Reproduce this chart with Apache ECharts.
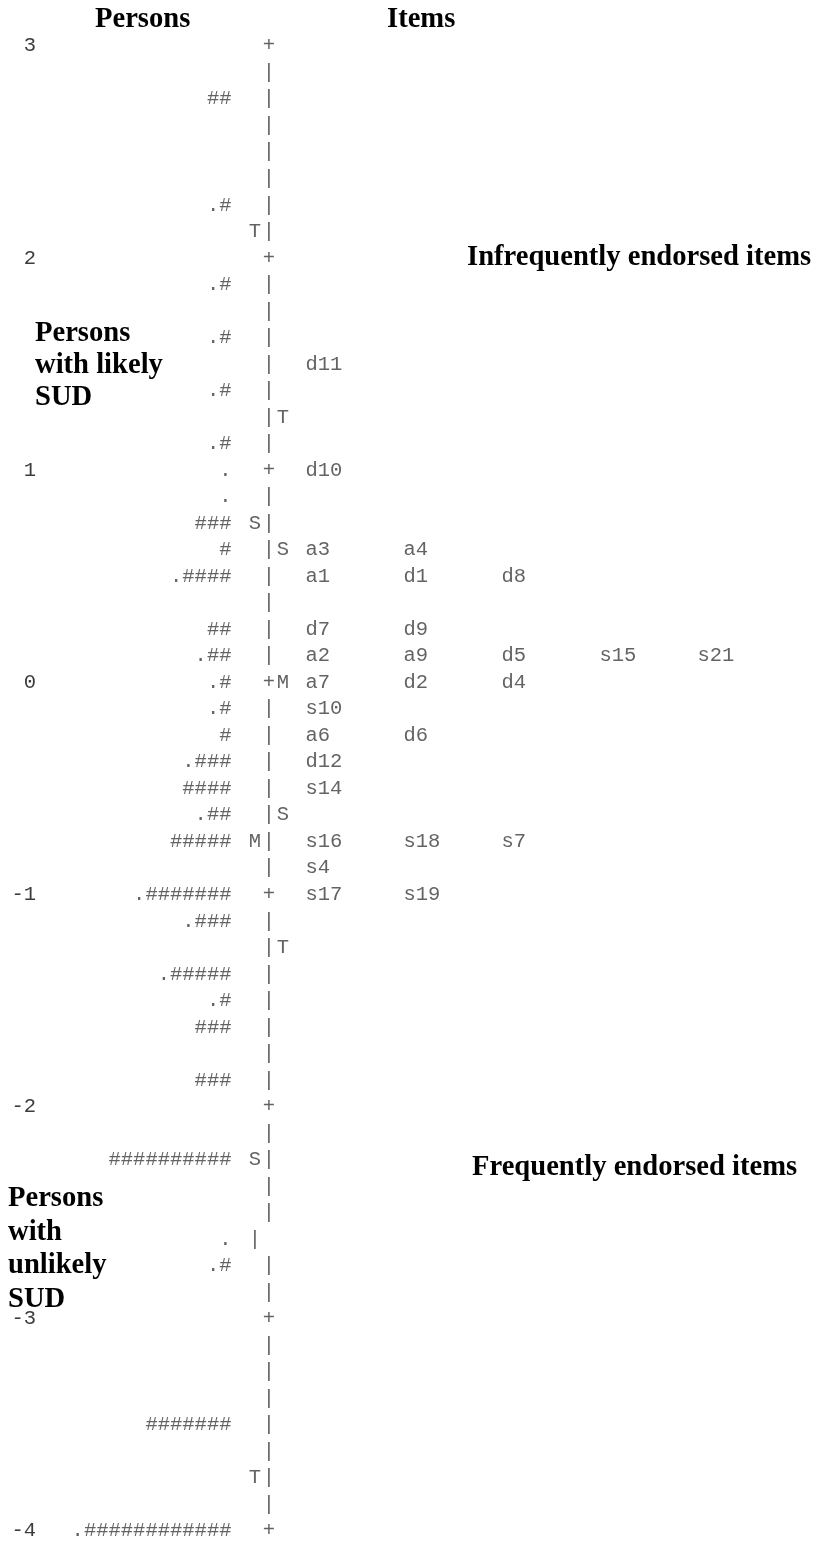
<!DOCTYPE html>
<html>
<head>
<meta charset="utf-8">
<script src="https://cdn.jsdelivr.net/npm/echarts@6/dist/echarts.min.js"></script>
<style>
  html, body { margin: 0; padding: 0; background: #fff; }
  #chart { width: 814px; height: 1542px; }
</style>
</head>
<body>
<div id="chart"></div>
<script>
// ---------- DATA ----------
// logit scale tick labels
const tickLabels = [3, 2, 1, 0, -1, -2, -3, -4];

// persons: [measure, histogram string]
const personMeasures = [2.75, 2.25, 1.875, 1.625, 1.375, 1.125, 1.0, 0.875, 0.75, 0.625, 0.5,
  0.25, 0.125, 0, -0.125, -0.25, -0.375, -0.5, -0.625, -0.75, -1.0, -1.125, -1.375, -1.5,
  -1.625, -1.875, -2.25, -2.625, -2.75, -3.5, -4.0];
const personBars = ['##', '.#', '.#', '.#', '.#', '.#', '.', '.', '###', '#', '.####',
  '##', '.##', '.#', '.#', '#', '.###', '####', '.##', '#####', '.#######', '.###', '.#####', '.#',
  '###', '###', '##########', '.', '.#', '#######', '.############'];

// person distribution markers (M = mean, S = 1 SD, T = 2 SD)
const personMarkMeasures = [2.125, 0.75, -0.75, -2.25, -2.625, -3.75];
const personMarkLabels = ['T', 'S', 'M', 'S', '|', 'T'];

// items: [measure, labels in that row]
const itemMeasures = [1.5, 1.0, 0.625, 0.5, 0.25, 0.125, 0, -0.125, -0.25, -0.375, -0.5, -0.75, -0.875, -1.0];
const itemLabels = [
  ['d11'], ['d10'], ['a3', 'a4'], ['a1', 'd1', 'd8'], ['d7', 'd9'],
  ['a2', 'a9', 'd5', 's15', 's21'], ['a7', 'd2', 'd4'], ['s10'], ['a6', 'd6'],
  ['d12'], ['s14'], ['s16', 's18', 's7'], ['s4'], ['s17', 's19']
];

// item distribution markers
const itemMarkMeasures = [1.25, 0.625, 0, -0.625, -1.25];
const itemMarkLabels = ['T', 'S', 'M', 'S', 'T'];

// rows where the ruler character is absent (shifted into marker column)
const rulerGaps = [-2.625];

// ---------- LAYOUT ----------
const MONO = '"Liberation Mono", "DejaVu Sans Mono", monospace';
const SERIF = '"Liberation Serif", "DejaVu Serif", serif';
const TXT = '#3c3c3c';
const FS = 20.5;
const PERSON_END = 192, PERSON_MARK = 215, RULER = 229, ITEM_MARK = 243, ITEM_X0 = 265, ITEM_STEP = 98;
const ROW = 1 / 8;

// ---------- BUILD ----------
const personData = personMeasures.map((m, i) => [PERSON_END, m, personBars[i]]);
const personMarkData = personMarkMeasures.map((m, i) => [PERSON_MARK, m, personMarkLabels[i]]);
const itemMarkData = itemMarkMeasures.map((m, i) => [ITEM_MARK, m, itemMarkLabels[i]]);
const itemData = [];
itemMeasures.forEach((m, i) => itemLabels[i].forEach((lab, c) => itemData.push([ITEM_X0 + c * ITEM_STEP, m, lab])));
const rulerData = [];
const yMax = Math.max(...tickLabels), yMin = Math.min(...tickLabels);
for (let v = yMax; v >= yMin - 1e-9; v -= ROW) {
  const r = Math.round(v * 8) / 8;
  if (rulerGaps.some(g => Math.abs(g - r) < 1e-6)) continue;
  rulerData.push([RULER, r, Number.isInteger(r) ? '+' : '|']);
}

function textSeries(data, position) {
  return {
    type: 'scatter', data, symbolSize: 1, silent: true, clip: false,
    itemStyle: { color: 'rgba(0,0,0,0)' },
    label: {
      show: true, position, distance: 0,
      formatter: p => p.value[2],
      fontFamily: MONO, fontSize: FS, color: TXT
    }
  };
}

const chart = echarts.init(document.getElementById('chart'), null, { renderer: 'canvas' });
const boldText = (left, topPx, text, lh) => ({
  type: 'text', left, top: topPx,
  style: { text, font: 'bold 28.6px ' + SERIF, fill: '#000', lineHeight: lh || 33 }
});

chart.setOption({
  animation: false,
  backgroundColor: '#fff',
  grid: { left: 40, right: 0, top: 46, bottom: 11 },
  xAxis: { type: 'value', min: 0, max: 774, show: false },
  yAxis: {
    type: 'value', min: yMin, max: yMax, interval: 1,
    axisLine: { show: false }, axisTick: { show: false }, splitLine: { show: false },
    axisLabel: { fontFamily: MONO, fontSize: FS, color: TXT, margin: 4,
      formatter: v => tickLabels.includes(v) ? String(v) : '' }
  },
  graphic: [
    boldText(95, 3, 'Persons'),
    boldText(387, 3, 'Items'),
    boldText(467, 241, 'Infrequently endorsed items'),
    boldText(472, 1151, 'Frequently endorsed items'),
    boldText(35, 318, 'Persons\nwith likely\nSUD', 32),
    boldText(8, 1182, 'Persons\nwith\nunlikely\nSUD', 33.5)
  ],
  series: [
    textSeries(personData, 'left'),
    textSeries(personMarkData, 'inside'),
    textSeries(rulerData, 'inside'),
    textSeries(itemMarkData, 'inside'),
    textSeries(itemData, 'right')
  ]
});
</script>
</body>
</html>
